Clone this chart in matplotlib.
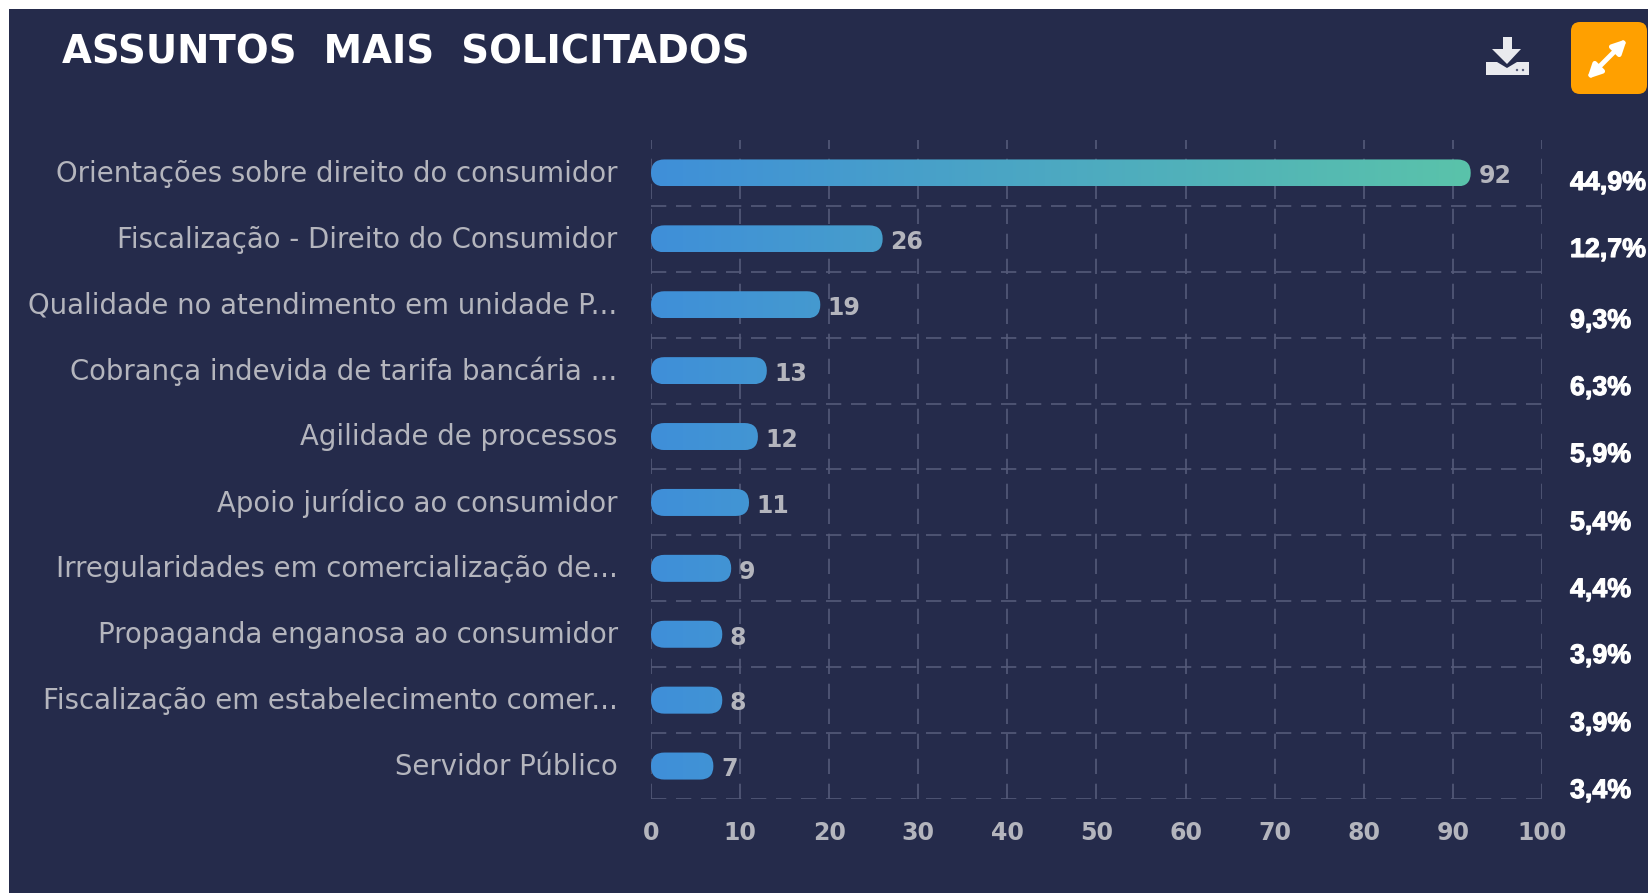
import numpy as np
import matplotlib
matplotlib.use('Agg')
import matplotlib.pyplot as plt
import matplotlib.patheffects as pe
from matplotlib.colors import LinearSegmentedColormap
from matplotlib.patches import FancyBboxPatch, FancyArrowPatch, Polygon, Rectangle, Circle

title = 'ASSUNTOS  MAIS  SOLICITADOS'
categorias = [
    'Orientações sobre direito do consumidor',
    'Fiscalização - Direito do Consumidor',
    'Qualidade no atendimento em unidade P...',
    'Cobrança indevida de tarifa bancária ...',
    'Agilidade de processos',
    'Apoio jurídico ao consumidor',
    'Irregularidades em comercialização de...',
    'Propaganda enganosa ao consumidor',
    'Fiscalização em estabelecimento comer...',
    'Servidor Público',
]
valores = [92, 26, 19, 13, 12, 11, 9, 8, 8, 7]
percentuais = ['44,9%', '12,7%', '9,3%', '6,3%', '5,9%', '5,4%', '4,4%', '3,9%', '3,9%', '3,4%']
percentuais_y = [183, 250, 321, 388, 455, 523, 590, 656, 724, 791]
x_ticks = list(range(0, 101, 10))

W, H = 1649, 893
BG = '#252b4b'
GRID = '#555a79'
TXT = '#b4b5bd'
plt.rcParams['lines.scale_dashes'] = False

fig = plt.figure(figsize=(W / 100, H / 100), dpi=100, facecolor='white')

# fundo e enfeites em coordenadas de pixel
bg = fig.add_axes([0, 0, 1, 1])
bg.set_xlim(0, W)
bg.set_ylim(H, 0)
bg.axis('off')
bg.add_patch(Rectangle((9, 9), W, H, color=BG, lw=0))
bg.text(62, 52, title, color='white', fontsize=27.8, fontweight='bold',
        family='DejaVu Sans', va='center', ha='left')

for p, y in zip(percentuais, percentuais_y):
    bg.text(1570, y, p, color='white', fontsize=19.3, fontweight='bold',
            family='Liberation Sans', va='center', ha='left',
            path_effects=[pe.withStroke(linewidth=0.8, foreground='white')])

# botao laranja
bg.add_patch(FancyBboxPatch((1579, 30), 60, 56, boxstyle='round,pad=8,rounding_size=9',
                            fc='#ffa000', ec='none'))
bg.add_patch(FancyArrowPatch((1587, 79), (1627, 39), arrowstyle='<|-|>', mutation_scale=20,
                             color='white', lw=3.5, shrinkA=0, shrinkB=0))
# icone de download
ICON = '#e9eaee'
bg.add_patch(Polygon([(1503, 37), (1512, 37), (1512, 49), (1521, 49), (1507, 64), (1492, 49), (1503, 49)],
                     fc=ICON, ec='none'))
bg.add_patch(Polygon([(1486, 62), (1497, 62), (1507, 68), (1517, 62), (1529, 62), (1529, 75), (1486, 75)],
                     fc=ICON, ec='none'))
bg.add_patch(Circle((1517, 70), 1.2, fc=GRID, ec='none'))
bg.add_patch(Circle((1523, 70), 1.2, fc=GRID, ec='none'))

# grafico
left, right, top, bottom = 651, 1542, 140, 799
ax = fig.add_axes([left / W, 1 - bottom / H, (right - left) / W, (bottom - top) / H])
ax.patch.set_alpha(0)
for s in ax.spines.values():
    s.set_visible(False)

y = np.arange(len(categorias))
cmap = LinearSegmentedColormap.from_list('barra', ['#3f8fd9', '#5ac3aa'])
grad = np.linspace(0, 1, 256).reshape(1, -1)
h = 0.41
vmax = max(valores)
for i, v in enumerate(valores):
    caixa = FancyBboxPatch((0, i - h / 2), v, h, boxstyle='round,pad=0,rounding_size=1.5',
                           mutation_aspect=0.135, fc='none', ec='none', zorder=3)
    ax.add_patch(caixa)
    im = ax.imshow(grad, cmap=cmap, extent=(0, vmax, i - h / 2, i + h / 2), aspect='auto',
                   vmin=0, vmax=1, zorder=3)
    im.set_clip_path(caixa)
    ax.text(v + 0.85, i + 0.05, str(v), color=TXT, fontsize=17, fontweight='bold',
            family='DejaVu Sans', va='center', ha='left', zorder=4)

ax.set_xlim(0, 100)
ax.set_ylim(len(categorias) - 0.5, -0.5)
ax.set_xticks(x_ticks)
# rotulos um pouco acima do centro da barra
ax.set_yticks(y - 0.035)
ax.set_yticklabels(categorias, color=TXT, fontsize=19.8, family='DejaVu Sans')
ax.set_yticks(y + 0.5, minor=True)
ax.tick_params(axis='y', which='both', length=0, pad=24)
ax.tick_params(axis='x', length=0, pad=16, colors=TXT, labelsize=17)
for t in ax.get_xticklabels():
    t.set_fontweight('bold')
ax.grid(True, axis='x', which='major', color=GRID, lw=1.2, ls=(0, (11, 7)), zorder=1)
ax.grid(True, axis='y', which='minor', color=GRID, lw=1.2, ls=(0, (11, 7)), zorder=1)
ax.grid(False, axis='y', which='major')
ax.set_axisbelow(True)

fig.savefig('out.png', dpi=100, facecolor=fig.get_facecolor())
